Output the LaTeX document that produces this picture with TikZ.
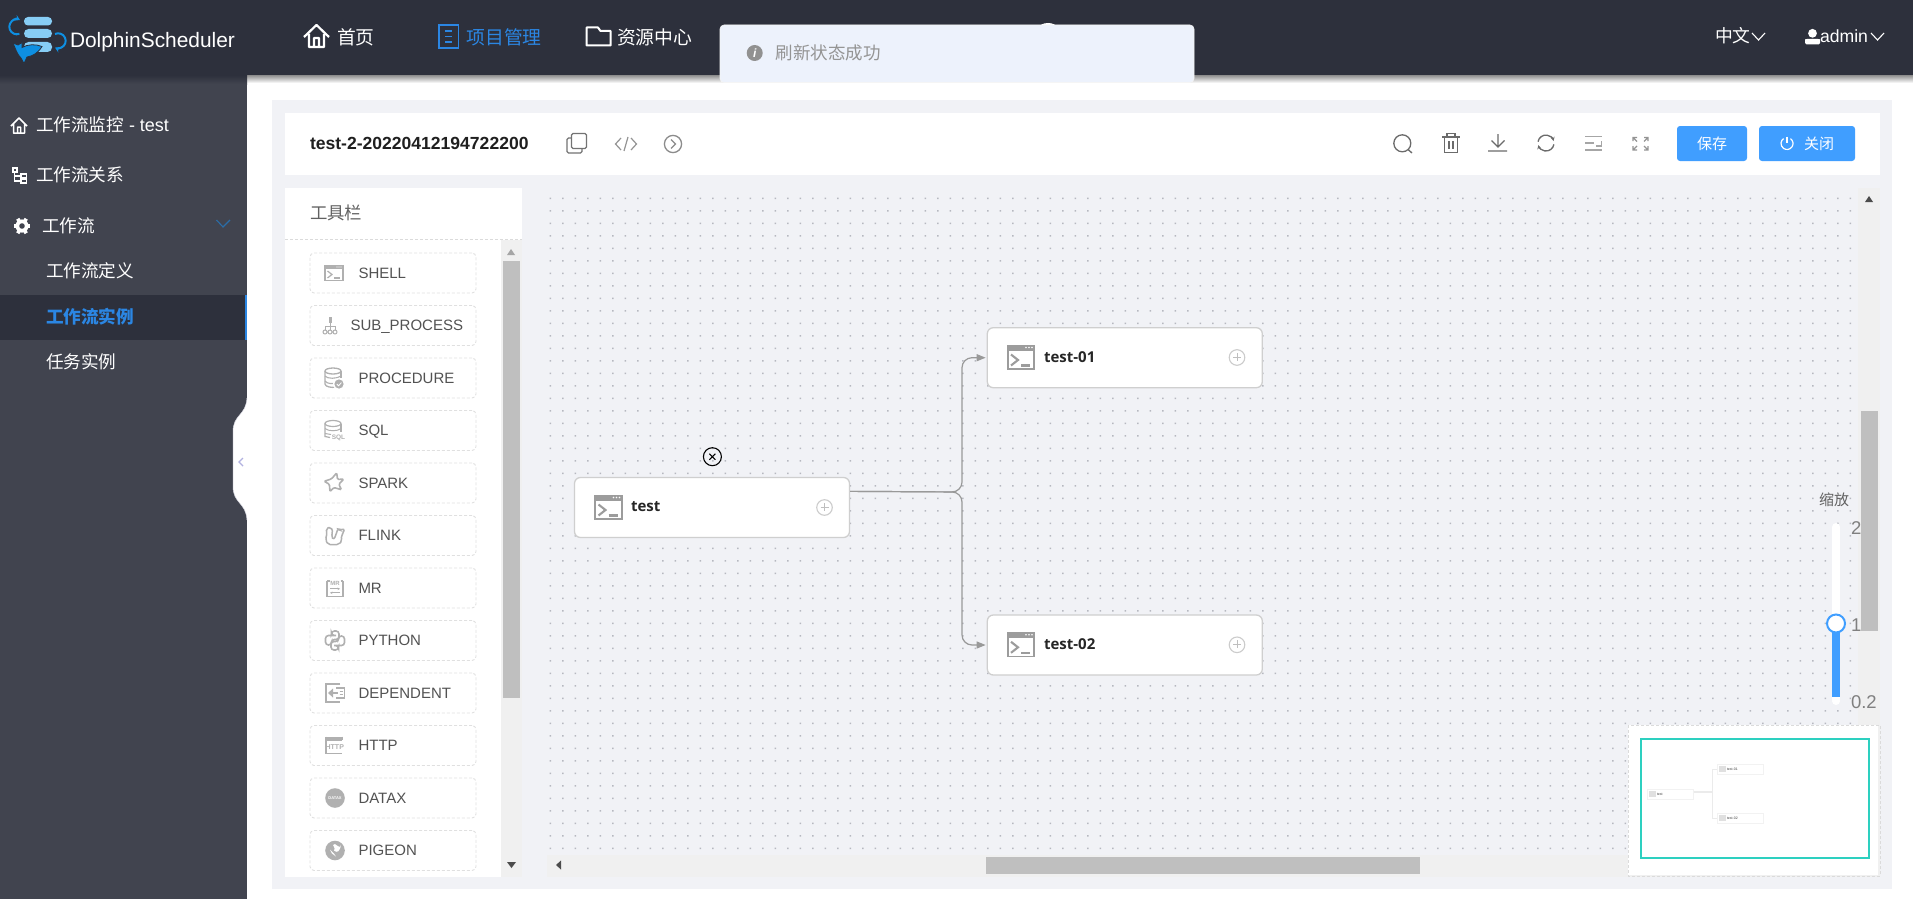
\documentclass[tikz,border=0pt]{standalone}
\usepackage{fontspec}
\setmainfont{Liberation Sans}
\newfontfamily\cjk{Noto Sans CJK SC}
\newfontfamily\opensans{Open Sans}
\usetikzlibrary{arrows.meta,calc}
\newcommand{\fs}[1]{\fontsize{#1}{#1}\selectfont}
\definecolor{topbar}{HTML}{2D303C}
\definecolor{sidebar}{HTML}{41444F}
\definecolor{panel}{HTML}{F1F2F6}
\definecolor{sbar}{HTML}{F0F0F0}
\definecolor{thumb}{HTML}{BFBFBF}
\definecolor{accent}{HTML}{2B86E3}
\definecolor{btn}{HTML}{409EFF}
\definecolor{nodeline}{HTML}{CFCFCF}
\definecolor{edgec}{HTML}{999999}
\definecolor{toolic}{HTML}{B0B0B0}
\definecolor{nodeic}{HTML}{9C9C9C}
\definecolor{dotc}{HTML}{B6B8C0}
\definecolor{logoa}{HTML}{87CDF5}
\definecolor{logob}{HTML}{0E8FE2}
\definecolor{teal}{HTML}{2DD0C0}
\definecolor{notifbg}{HTML}{EDF2FC}
\definecolor{chev}{HTML}{2A6DA8}
\tikzset{
  lab/.style={inner sep=0pt,outer sep=0pt,anchor=base west},
  labc/.style={inner sep=0pt,outer sep=0pt,anchor=base},
  sidetxt/.style={lab,text=white,font=\cjk\fs{17.6}},
  toptxt/.style={lab,text=white,font=\cjk\fs{18.8}},
  toolitem/.style={draw=#1,dashed,dash pattern=on 3pt off 2pt,line width=.9pt,rounded corners=4pt,fill=white,minimum width=166pt,minimum height=40pt,inner sep=0pt},
  toolitem/.default={black!12},
  toollab/.style={lab,text=black!68,font=\fs{15}},
  tasknode/.style={draw=nodeline,line width=1.3pt,fill=white,rounded corners=6pt,minimum width=275pt,minimum height=60pt,inner sep=0pt},
  tasklab/.style={lab,text=black!85,font=\opensans\bfseries\fs{15}},
  edge/.style={draw=edgec,line width=1.2pt,rounded corners=10pt,-{Stealth[length=9pt,width=7pt,inset=0pt]},shorten >=1pt},
  hicon/.style={draw=black!58,line width=1.3pt},
  hicong/.style={draw=black!35,line width=1.6pt},
  btnbox/.style={fill=btn,rounded corners=3pt,inner sep=0pt,text=white,font=\cjk\fs{15}},
  scaletxt/.style={lab,text=black!50,font=\fs{18.5}},
  mininode/.style={draw=black!5,line width=.8pt,fill=white,minimum width=46pt,minimum height=10pt,inner sep=0pt},
  minitxt/.style={lab,text=black!75,font=\fs{3.5}},
  pics/shellic/.style={code={
    \fill (-14,-12.5) rectangle (14,-6.5);
    \draw[line width=1.9pt] (-13.2,-11.7) rectangle (13.2,11.7);
    \fill[white] (5,-10) circle (.9pt) (8,-10) circle (.9pt) (11,-10) circle (.9pt);
    \draw[line width=2.1pt] (-10,-3) -- (-3,2.5) -- (-10,8);
    \draw[line width=2.1pt] (0,8) -- (9,8);
  }},
  pics/shellsm/.style={code={
    \fill (-9.5,-8) rectangle (9.5,-4);
    \draw[line width=1.4pt] (-9,-7.5) rectangle (9,7.5);
    \fill[white] (3,-6) circle (.6pt) (5,-6) circle (.6pt) (7,-6) circle (.6pt);
    \draw[line width=1.2pt] (-6.5,-2) -- (-2,1.5) -- (-6.5,5);
    \draw[line width=1.2pt] (0,5) -- (6,5);
  }},
  pics/subic/.style={code={
    \fill (-1.5,-9) rectangle (1.5,-3);
    \draw[line width=1pt] (0,-3) -- (0,4) (-5,4) -- (-5,1) -- (5,1) -- (5,4);
    \draw[line width=1pt] (-5,6.5) circle (2pt) (0,6.5) circle (2pt) (5,6.5) circle (2pt);
  }},
  pics/dbic/.style={code={
    \draw[line width=1.3pt] (0,-7) ellipse (8pt and 3pt);
    \draw[line width=1.3pt] (-8,-7) -- (-8,6) .. controls (-8,9) and (0,10) .. (2,9);
    \draw[line width=1.3pt] (8,-7) -- (8,0);
    \draw[line width=1.1pt] (-8,-2) .. controls (-6,1) and (4,1) .. (8,-2);
    \draw[line width=1.1pt] (-8,3) .. controls (-6,6) and (0,6) .. (3,5);
    \fill[white] (6,6) circle (6pt);
    \fill (6,6) circle (4.6pt);
    \draw[white,line width=.8pt] (3.8,6) -- (5.6,7.8) -- (8.4,4.6);
  }},
  pics/sqlic/.style={code={
    \draw[line width=1.2pt] (-1,-7) ellipse (8pt and 3pt);
    \draw[line width=1.2pt] (-9,-7) -- (-9,6) -- (-4,7);
    \draw[line width=1.2pt] (7,-7) -- (7,1);
    \draw[line width=1pt] (-9,-2) .. controls (-6,1) and (4,1) .. (7,-2);
    \draw[line width=1pt] (-9,3) -- (-3,4);
    \node[inner sep=0pt,text=toolic,font=\bfseries\fs{6.5}] (sqltiny) at (4.5,7.5) {SQL};
  }},
  pics/starsm/.style={code={
    \draw[line width=1.6pt,rounded corners=1.2pt] (75:10.5pt) -- (120:4.8pt) -- (170:10pt) -- (195:4.8pt) -- (245:9.5pt) -- (268:4.5pt) -- (318:10pt) -- (345:5pt) -- (22:10.5pt) -- (45:5pt) -- cycle;
  }},
  pics/flinkic/.style={code={
    \draw[line width=1.5pt,rounded corners=2pt] (-2,9) -- (-7,9) -- (-9.5,4) -- (-8,-2) -- (-9,-7) -- (-4,-8.5) -- (-2,-3) -- (-4,1) -- (-1,4) -- (1,-1) -- (3,-7) -- (5,-5) -- (9,-7) -- (9,-3) -- (6,0) -- (7,5) -- (4,9) -- cycle;
  }},
  pics/mric/.style={code={
    \draw[line width=1.3pt] (-8,-7) -- (-8,8.5) -- (8,8.5) -- (8,-7);
    \draw[line width=1.3pt] (-8,-7) -- (-5.5,-7) (5.5,-7) -- (8,-7);
    \node[inner sep=0pt,text=toolic,font=\bfseries\fs{6}] (mrtiny) at (0,-5) {MR};
    \draw[line width=1pt,-{Stealth[length=2.5pt,width=2.5pt]}] (-5,.8) -- (5,.8);
    \draw[line width=1pt,-{Stealth[length=2.5pt,width=2.5pt]}] (5,4.8) -- (-5,4.8);
  }},
  pics/pyic/.style={code={
    \draw[line width=1.6pt,rounded corners=3pt] (1,-5) -- (-3.5,-5) -- (-3.5,-9.5) -- (4,-9.5) -- (4,-1) -- (-3.5,-1) -- (-3.5,4.5) -- (-9.5,4.5) -- (-9.5,-5) -- (1,-5);
    \draw[line width=1.6pt,rounded corners=3pt] (-1,5) -- (3.5,5) -- (3.5,9.5) -- (-4,9.5) -- (-4,1) -- (3.5,1) -- (3.5,-4.5) -- (9.5,-4.5) -- (9.5,5) -- (-1,5);
  }},
  pics/depic/.style={code={
    \draw[line width=1.4pt] (5,-9) -- (-9,-9) -- (-9,9) -- (5,9);
    \draw[line width=1.2pt] (9.5,-5) -- (9.5,5) -- (1,5) (1,-5) -- (9.5,-5);
    \fill (-7,0) -- (-2,-4.5) -- (-2,4.5) -- cycle;
    \draw[line width=2pt] (-3,0) -- (3,0);
    \draw[line width=.9pt] (4.5,-1.5) -- (8,-1.5) (4.5,1.5) -- (8,1.5);
  }},
  pics/httpic/.style={code={
    \fill (-9,-9) rectangle (7,-5);
    \draw[line width=1.2pt] (-9,-9) -- (-9,8) -- (7,8);
    \draw[line width=1.2pt] (7,-9) -- (7,-6);
    \node[inner sep=0pt,text=toolic,font=\bfseries\fs{7}] (httptiny) at (-.2,1.8) {HTTP};
  }},
  pics/dataxic/.style={code={
    \fill (0,0) circle (9.8pt);
    \node[inner sep=0pt,text=white,font=\bfseries\fs{4}] (dxtiny) at (0,0) {DATAX};
  }},
  pics/pigic/.style={code={
    \fill (0,0) circle (9.8pt);
    \fill[white] (-2,-5.5) .. controls (0,-2) and (0,-1) .. (-1,0) .. controls (2,3) and (5,1) .. (6,-6) .. controls (6,-3) and (3,-3) .. (2,-5) .. controls (1,-6.5) and (-1,-7) .. (-2,-5.5) -- cycle;
    \fill[white] (-5,-1) -- (-1,3) -- (1,6) -- (-3,3) -- cycle;
  }},
  pics/plusic/.style={code={
    \draw[draw=black!20,line width=1.1pt] (0,0) circle (7.8pt);
    \draw[draw=black!25,line width=.9pt] (-4,-.5) -- (4,-.5) (0,-4.5) -- (0,3.5);
  }},
  pics/minishell/.style={code={
    \fill[black!12] (-3.2,-3.2) rectangle (3.2,3.2);
  }},
}
\begin{document}
\begin{tikzpicture}[x=1pt,y=-1pt]
\useasboundingbox (0,0) rectangle (1913,899);
% backgrounds
\fill[white] (0,0) rectangle (1913,899);
\fill[sidebar] (0,75) rectangle (247,899);
\shade[top color=black!45,bottom color=white] (247,75) rectangle (1913,83);
\shade[top color=topbar,bottom color=sidebar] (0,75) rectangle (247,84);
\fill[topbar] (0,0) rectangle (1913,75);
% collapse tab
\fill[white] (247,398) .. controls (246,416) and (233,414) .. (233,432) -- (233,486) .. controls (233,504) and (246,502) .. (247,520) -- cycle;
\draw[draw=blue!25!black!15,line width=.5pt] (247,398) .. controls (246,416) and (233,414) .. (233,432) -- (233,486) .. controls (233,504) and (246,502) .. (247,520);
\draw[draw=blue!60!black!30,line width=1.4pt] (243,458) -- (239,462) -- (243,466);
% active row
\fill[topbar] (0,295) rectangle (247,340);
\fill[accent] (245,295) rectangle (247,340);
% panel
\fill[panel] (272,100) rectangle (1892,889);
\fill[white] (285,113) rectangle (1880,175);
\fill[white] (285,188) rectangle (522,877);
\draw[draw=black!14,dashed,dash pattern=on 3pt off 2pt,line width=.8pt] (285,239) -- (522,239);
% canvas dots
\fill[dotc] \foreach \i in {0,...,104}{\foreach \j in {0,...,52}{(549.6+\i*12.5,197.6+\j*12.5) rectangle +(1.4,1.4)}};
% scrollbars
\fill[sbar] (501,240) rectangle (522,877);
\fill[thumb] (503,261) rectangle (520,698);
\fill[black!35] (507,255) -- (515,255) -- (511,249) -- cycle;
\fill[black!70] (507,862) -- (516,862) -- (511.5,868) -- cycle;
\fill[sbar] (1858,188) rectangle (1880,877);
\fill[thumb] (1861,411) rectangle (1878,631);
\fill[black!70] (1865,202) -- (1873,202) -- (1869,196) -- cycle;
\fill[sbar] (547,855) rectangle (1880,877);
\fill[thumb] (986,857) rectangle (1420,874);
\fill[black!70] (561,860.5) -- (561,869.5) -- (556,865) -- cycle;
% top bar content
\draw[fill=logoa,draw=none,rounded corners=4pt] (24,17) rectangle (52,25.5);
\draw[fill=logoa,draw=none,rounded corners=4.5pt] (24,29) rectangle (52,38);
\draw[fill=logoa,draw=none,rounded corners=4.5pt] (24,42) rectangle (52,52);
\draw[draw=logob,line width=2pt,{Stealth[length=5pt,width=6pt]}-] (20,20) arc[start angle=65,end angle=290,radius=7.5pt];
\draw[draw=logob,line width=2pt,-{Stealth[length=5pt,width=6pt]}] (55,34) arc[start angle=115,end angle=-115,radius=7.5pt];
\fill[logob,draw=topbar,line width=.8pt] (13,43) -- (18,45) -- (22,42.5) -- (22,47.5) .. controls (28,44) and (36,44) .. (42,46.5) .. controls (38,53) and (33,56) .. (27,57) -- (24,63.5) -- (21,58) .. controls (17,54) and (16,50) .. (13,43) -- cycle;
\node[lab,text=white,font=\fs{20.9}] (brand) at (70,48) {DolphinScheduler};
\draw[draw=white,line width=2.2pt,line join=round] (304,37) -- (316.5,25) -- (329,37) (309,34) -- (309,47) -- (324,47) -- (324,34) (314,47) -- (314,38) -- (319,38) -- (319,47);
\node[toptxt] (nav1) at (337,44.6) {首页};
\draw[draw=accent,line width=1.7pt] (439,25) rectangle (458.5,48);
\draw[draw=accent,line width=1.5pt] (445,31) -- (452,31) (445,36.5) -- (452,36.5) (445,42) -- (452,42);
\node[toptxt,text=accent] (nav2) at (466.5,44.6) {项目管理};
\draw[draw=white,line width=2pt,line join=round] (586.5,27.5) -- (598,27.5) -- (600.5,31) -- (610.5,31) -- (610.5,45.5) -- (586.5,45.5) -- cycle;
\node[toptxt] (nav3) at (617,44.6) {资源中心};
\fill[white] (1048,28) ellipse (9pt and 5pt);
% notification
\draw[draw=black!4,fill=notifbg,rounded corners=4pt,line width=.6pt] (720,25) rectangle (1194,82.5);
\fill[black!43] (754.7,53) circle (8pt);
\node[inner sep=0pt,text=white,font=\bfseries\itshape\fs{12}] (infoi) at (754.7,53) {i};
\node[lab,text=black!42,font=\cjk\fs{17.5}] (notif) at (775.5,59.6) {刷新状态成功};
% right top
\node[lab,text=white,font=\cjk\fs{17.8}] (lang) at (1715,42.8) {中文};
\draw[draw=white,line width=1.1pt] (1752,33) -- (1758.5,40) -- (1765,33);
\fill[white] (1812.5,33.3) circle (4.4pt);
\fill[white,rounded corners=1.5pt] (1805,44.5) -- (1805,41) .. controls (1805,38.5) and (1820,38.5) .. (1820,41) -- (1820,44.5) -- cycle;
\node[lab,text=white,font=\fs{17.6}] (admin) at (1820,43) {admin};
\draw[draw=white,line width=1.1pt] (1871,33) -- (1877.5,40) -- (1884,33);
% sidebar
\draw[draw=white,line width=1.5pt,line join=round] (11,126) -- (19,118) -- (27,126) (13.5,124) -- (13.5,133) -- (24.5,133) -- (24.5,124) (17.5,133) -- (17.5,127) -- (20.5,127) -- (20.5,133);
\node[sidetxt] (s1) at (36,131.7) {工作流监控\fs{18}\rmfamily{} - test};
\draw[draw=white,line width=1.4pt] (13,168) rectangle (17,172) (14.5,172) -- (14.5,181) -- (21,181) (14.5,176) -- (21,176) (21,174) rectangle (26.5,178) (21,179) rectangle (26.5,183);
\node[sidetxt] (s2) at (36,181.7) {工作流关系};
\begin{scope}[shift={(22,226)}]
\foreach \a in {0,60,...,300}{\draw[draw=white,line width=3.6pt] (\a:4pt) -- (\a:8.4pt);}
\fill[white] (0,0) circle (6.6pt);
\fill[sidebar] (0,0) circle (2.8pt);
\end{scope}
\node[sidetxt] (s3) at (42,232.7) {工作流};
\draw[draw=chev,line width=1.1pt] (216.5,220) -- (223,227) -- (230,220);
\node[sidetxt] (s4) at (46,277.7) {工作流定义};
\node[sidetxt,text=accent,font=\cjk\bfseries\fs{17.6}] (s5) at (46,323.7) {工作流实例};
\node[sidetxt] (s6) at (46,368.7) {任务实例};
% header
\node[lab,text=black!88,font=\bfseries\fs{17.55}] (title) at (310,149) {test-2-20220412194722200};
\draw[draw=black!55,line width=1.2pt,rounded corners=1.5pt] (571.5,133.5) rectangle (586.5,148.5);
\draw[draw=black!55,line width=1.2pt,rounded corners=1.5pt] (571,138) -- (567,138) -- (567,153) -- (582,153) -- (582,149);
\draw[draw=black!42,line width=1.2pt] (621,138) -- (615.5,144) -- (621,150) (631,138) -- (636.5,144) -- (631,150) (628,137) -- (624,151);
\draw[draw=black!45,line width=1.3pt] (673,144) circle (8.6pt);
\draw[draw=black!45,line width=1.3pt] (671,139.5) -- (675.5,144) -- (671,148.5);
\draw[hicon] (1402.3,143.3) circle (8.5pt) (1408,149.5) -- (1412,153);
\draw[hicon] (1442,137) -- (1460,137) (1447,137) -- (1447,133.5) -- (1455,133.5) -- (1455,137) (1444.5,137) -- (1444.5,152.5) -- (1457.5,152.5) -- (1457.5,137) (1449,141) -- (1449,149) (1453,141) -- (1453,149);
\draw[hicon] (1498,134) -- (1498,147) (1491.5,140.5) -- (1498,147) -- (1504.5,140.5) (1488,151) -- (1507,151);
\draw[hicon,-{Stealth[length=4pt,width=4pt]}] (1538,141.7) arc[start angle=170,end angle=15,radius=8pt];
\draw[hicon,-{Stealth[length=4pt,width=4pt]}] (1553.9,144.4) arc[start angle=-10,end angle=-165,radius=8pt];
\draw[hicong] (1585,136.5) -- (1602,136.5) (1585,143) -- (1594,143) (1585,150) -- (1602,150);
\draw[draw=black!35,line width=1.2pt] (1601.5,141) -- (1601.5,146) -- (1596,146);
\draw[draw=black!42,line width=1.3pt] (1633,141) -- (1633,137.5) -- (1637,137.5) (1633,137.5) -- (1637,141.5) (1648,141) -- (1648,137.5) -- (1644,137.5) (1648,137.5) -- (1644,141.5) (1633,146) -- (1633,150) -- (1637,150) (1633,150) -- (1637,146) (1648,146) -- (1648,150) -- (1644,150) (1648,150) -- (1644,146);
\node[btnbox,minimum width=70pt,minimum height=35pt] (save) at (1712,143.5) {保存};
\node[btnbox,minimum width=96pt,minimum height=35pt] (closeb) at (1807,143.5) {};
\draw[draw=white,line width=1.2pt] (1787,143.5) ++(55:6pt) arc[start angle=55,end angle=-235,radius=6pt];
\draw[draw=white,line width=1.2pt] (1787,136.5) -- (1787,143);
\node[inner sep=0pt,text=white,font=\cjk\fs{15}] (closet) at (1819,143.5) {关闭};
% toolbar
\node[lab,text=black!62,font=\cjk\fs{17.4}] (tbt) at (310,219.2) {工具栏};
\foreach \lab/\tx/\ic/\icx [count=\k from 0] in {SHELL/358.5/shellsm/334,SUB\_PROCESS/350.5/subic/330,PROCEDURE/358.5/dbic/333,SQL/358.5/sqlic/334,SPARK/358.5/starsm/334,FLINK/358.5/flinkic/335,MR/358.5/mric/335,PYTHON/358.5/pyic/335,DEPENDENT/358.5/depic/335,HTTP/358.5/httpic/335,DATAX/358.5/dataxic/335,PIGEON/358.5/pigic/335}{
  \pgfmathsetmacro{\yy}{273+52.5*\k}
  \pgfmathsetmacro{\yb}{\yy+5.4}
  \node[toolitem] (item\k) at (393,\yy) {};
  \node[toollab] (itemlab\k) at (\tx,\yb) {\lab};
  \pic[color=toolic] at (\icx,\yy) {\ic};
}
% task nodes
\node[tasknode] (test) at (712,507.5) {};
\node[tasknode] (test01) at (1124.8,357.7) {};
\node[tasknode] (test02) at (1124.8,645) {};
\coordinate (out) at ($(test.north east)+(0,14.5)$);
\coordinate (bend) at (962,492);
\draw[edge] (out) -- (bend) |- (test01.west);
\draw[edge] (out) -- (bend) |- (test02.west);
\pic[color=nodeic] at (1021,357.5) {shellic};
\pic[color=nodeic] at (1021,644.8) {shellic};
\pic[color=nodeic] at (608.5,507.5) {shellic};
\node[tasklab] (ltest) at (631,511.8) {test};
\node[tasklab] (ltest01) at (1044,362.2) {test-01};
\node[tasklab] (ltest02) at (1044,649.4) {test-02};
\pic at (1237,357.5) {plusic};
\pic at (1237,644.8) {plusic};
\pic at (824.5,507.5) {plusic};
% delete mark
\node[circle,draw=black,line width=1.1pt,fill=none,minimum size=18pt,inner sep=0pt] (del) at (712.4,456.7) {};
\draw[draw=black,line width=1.1pt] (709.4,453.7) -- (715.4,459.7) (709.4,459.7) -- (715.4,453.7);
% zoom slider
\node[inner sep=0pt,text=black!62,font=\cjk\fs{15}] (zl) at (1834,500) {缩放};
\draw[draw=white,line width=8pt,line cap=round] (1836,527) -- (1836,700);
\draw[draw=btn,line width=8pt] (1836,623) -- (1836,697);
\fill[white] (1836,701) circle (4pt);
\node[circle,draw=btn,line width=2pt,fill=white,minimum size=18pt,inner sep=0pt] (handle) at (1836,623.5) {};
\node[scaletxt] (z2) at (1851,534) {2};
\node[scaletxt] (z1) at (1851,631) {1};
\node[scaletxt] (z0) at (1851,708) {0.2};
% minimap
\fill[white] (1628,725) rectangle (1878,875);
\draw[draw=black!14,dashed,dash pattern=on 3pt off 2pt,line width=.7pt] (1628,725) rectangle (1880,876);
\draw[draw=teal,line width=2pt] (1641,739) rectangle (1869,858);
\node[mininode] (mtest) at (1670.5,794) {};
\node[mininode] (m01) at (1740,769) {};
\node[mininode] (m02) at (1740,818) {};
\coordinate (mbend) at (1712,792);
\draw[draw=black!8,line width=2.2pt] (mtest.east |- mbend) -- (mbend);
\draw[draw=black!8,line width=.8pt] (m01.west -| mbend) -- (m02.west -| mbend);
\draw[draw=black!8,line width=.8pt] (m01.west -| mbend) -- (m01.west);
\draw[draw=black!8,line width=.8pt] (m02.west -| mbend) -- (m02.west);
\pic at (1652.5,794) {minishell};
\pic at (1722.5,769) {minishell};
\pic at (1722.5,818) {minishell};
\node[minitxt] (mt1) at (1657,795) {test};
\node[minitxt] (mt2) at (1727,770) {test-01};
\node[minitxt] (mt3) at (1727,819) {test-02};
\end{tikzpicture}
\end{document}
